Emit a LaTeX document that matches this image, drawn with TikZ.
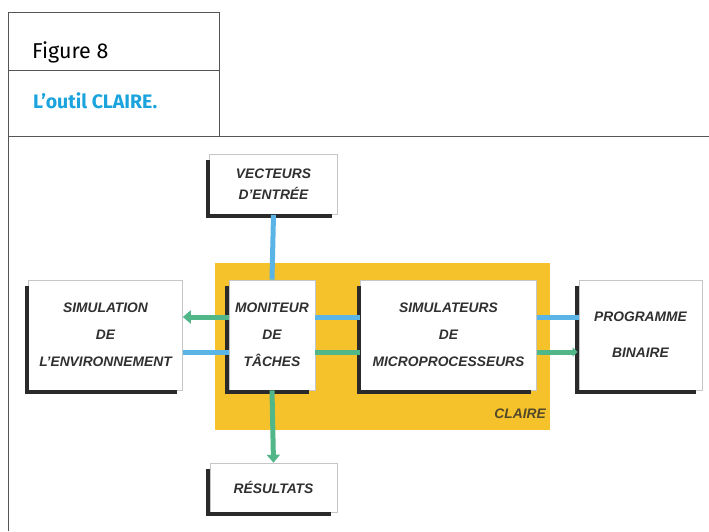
\documentclass[tikz,border=0pt]{standalone}
\usepackage{fontspec}
\setmainfont{Liberation Sans}
\newfontfamily\headfont{Fira Sans}
\usetikzlibrary{arrows.meta}
\definecolor{claireyellow}{HTML}{F5C22B}
\definecolor{arrowblue}{HTML}{5AB4E5}
\definecolor{arrowgreen}{HTML}{52B788}
\definecolor{headblue}{HTML}{1AA3DC}
\definecolor{boxtext}{HTML}{303030}
\definecolor{shadowdark}{HTML}{2A2A2A}
\definecolor{ruleline}{HTML}{555555}
\tikzset{
  x=1pt, y=-1pt,
  rule/.style={draw=ruleline, line width=1pt},
  blockbox/.style={draw=gray!45, line width=0.6pt, fill=white, inner sep=0pt,
    align=center, text=boxtext, font=\bfseries\itshape\fontsize{13.8}{27}\selectfont},
  shadowline/.style={draw=shadowdark, line width=4pt},
  bluearrow/.style={draw=arrowblue, line width=5pt},
  greenarrow/.style={draw=arrowgreen, line width=5pt},
  greenhead/.style={greenarrow, -{Triangle[length=8pt,width=13pt]}},
}
\newcommand{\boxshadow}[1]{%
  \draw[shadowline] ([xshift=-1.5pt,yshift=-6pt]#1.north west) |- ([xshift=-6pt,yshift=-1.5pt]#1.south east);}
\begin{document}
\begin{tikzpicture}
\useasboundingbox (0,0) rectangle (709,531);
\fill[white] (0,0) rectangle (709,531);
% header frame
\draw[rule] (8,12) -- (219,12);
\draw[rule] (8,12) -- (8,531);
\draw[rule] (219,12) -- (219,136);
\draw[rule] (8,70) -- (219,70);
\draw[rule] (8,136) -- (709,136);
\node[anchor=base west, inner sep=0pt, font=\headfont\fontsize{21.5}{24}\selectfont] (figtitle) at (32,58) {Figure 8};
\node[anchor=base west, inner sep=0pt, text=headblue, font=\headfont\bfseries\fontsize{19.5}{23}\selectfont] (figcaption) at (33,108) {L’outil CLAIRE.};
% CLAIRE area
\fill[claireyellow] (215,263) rectangle (550,430);
\node[anchor=base east, inner sep=0pt, text=shadowdark!80!claireyellow, font=\bfseries\itshape\fontsize{13.8}{15}\selectfont] (clairelbl) at (546,418) {CLAIRE};
% boxes
\node[blockbox, minimum width=128pt, minimum height=60pt, font=\bfseries\itshape\fontsize{13.8}{21}\selectfont] (vect) at (273.5,184.5) {VECTEURS\\D’ENTRÉE};
\node[blockbox, minimum width=154pt, minimum height=110pt] (env) at (105.5,335) {SIMULATION\\DE\\L’ENVIRONNEMENT};
\node[blockbox, minimum width=86pt, minimum height=110pt] (mon) at (272,335) {MONITEUR\\DE\\TÂCHES};
\node[blockbox, minimum width=176pt, minimum height=110pt] (simu) at (448.5,335) {SIMULATEURS\\DE\\MICROPROCESSEURS};
\node[blockbox, minimum width=123pt, minimum height=110pt, font=\bfseries\itshape\fontsize{13.8}{36}\selectfont] (prog) at (640.5,335) {PROGRAMME\\BINAIRE};
\node[blockbox, minimum width=127pt, minimum height=49pt] (res) at (273.5,487.5) {RÉSULTATS};
\boxshadow{vect}
\boxshadow{env}
\boxshadow{mon}
\boxshadow{simu}
\boxshadow{prog}
\boxshadow{res}
% connectors
\draw[bluearrow] (vect.south) -- (mon.north);
\draw[greenhead] ([yshift=18pt]mon.west) -- ([yshift=18pt]env.east);
\draw[bluearrow] ([yshift=-17pt]env.east) -- ([yshift=-17pt]mon.west);
\draw[bluearrow] ([yshift=18pt]mon.east) -- ([yshift=18pt]simu.west);
\draw[greenarrow] ([yshift=-17pt]mon.east) -- ([yshift=-17pt]simu.west);
\draw[bluearrow] ([yshift=18pt]simu.east) -- ([yshift=18pt]prog.west);
\draw[greenarrow, -{Triangle[length=5pt,width=9pt]}] ([yshift=-17pt]simu.east) -- ([yshift=-17pt,xshift=-1pt]prog.west);
\draw[greenhead] (mon.south) -- (res.north);
\end{tikzpicture}
\end{document}
